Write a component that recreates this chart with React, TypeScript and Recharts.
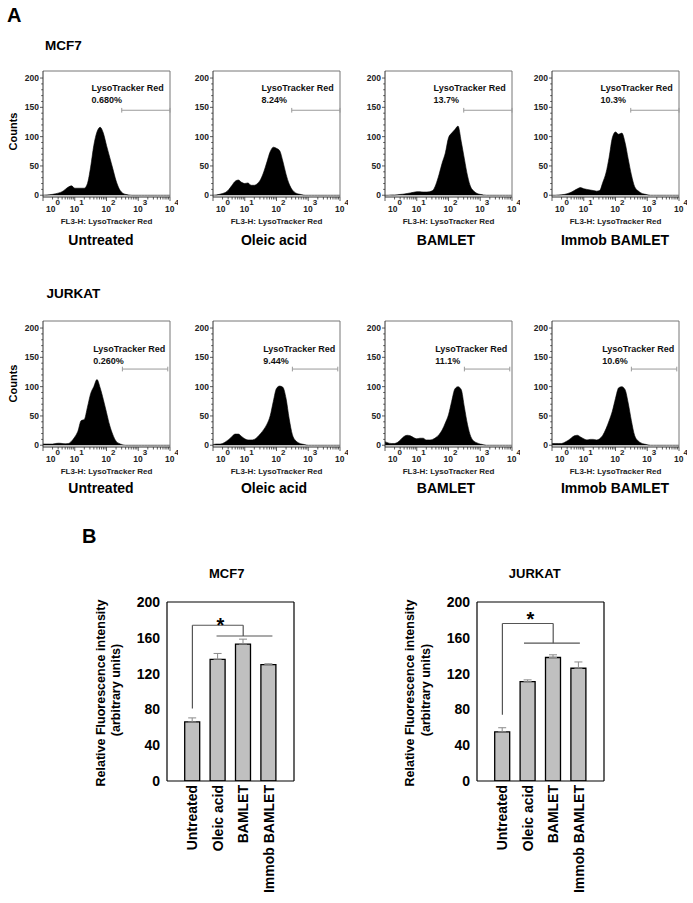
import React from 'react';
import {
  AreaChart, Area, XAxis, YAxis, ReferenceLine, ReferenceDot,
  BarChart, Bar, ErrorBar,
} from 'recharts';

const FONT = '"Liberation Sans", Arial, Helvetica, sans-serif';

// ---------- Panel A: flow cytometry histograms (counts per 0.1-decade bin, 10^0 .. 10^4) ----------
const LOG_BINS = [
  0, 0.1, 0.2, 0.3, 0.4, 0.5, 0.6, 0.7, 0.8, 0.9,
  1, 1.1, 1.2, 1.3, 1.4, 1.5, 1.6, 1.7, 1.8, 1.9,
  2, 2.1, 2.2, 2.3, 2.4, 2.5, 2.6, 2.7, 2.8, 2.9,
  3, 3.1, 3.2, 3.3, 3.4, 3.5, 3.6, 3.7, 3.8, 3.9, 4,
];

const mcf7Untreated = [
  0, 0.5, 1, 1.5, 2.5, 4, 6, 10, 14, 16,
  12, 12, 12, 12, 20, 48, 85, 108, 116, 106,
  85, 65, 45, 25, 11, 4, 1.5, 0.5, 0, 0,
  0, 0, 0, 0, 0, 0, 0, 0, 0, 0, 0,
];
const mcf7Oleic = [
  0, 0.5, 1.5, 3, 5, 10, 17, 24, 26, 22,
  20, 21, 17, 17, 20, 27, 40, 57, 74, 82,
  80, 76, 58, 36, 19, 9, 4, 2, 1, 0,
  0, 0, 0, 0, 0, 0, 0, 0, 0, 0, 0,
];
const mcf7Bamlet = [
  0, 0, 0.5, 0.5, 1, 1.5, 2, 3, 4, 5,
  6, 6, 5.5, 5.5, 6, 8, 18, 35, 55, 72,
  98, 106, 112, 118, 92, 62, 33, 14, 7, 3,
  1.5, 0.5, 0, 0, 0, 0, 0, 0, 0, 0, 0,
];
const mcf7Immob = [
  0, 0, 0.5, 1, 1.5, 3, 5, 8, 11, 13,
  11, 10, 9, 8, 7, 8, 22, 38, 65, 98,
  108, 104, 106, 90, 62, 35, 15, 8, 4, 2,
  1, 0, 0, 0, 0, 0, 0, 0, 0, 0, 0,
];
const jurkatUntreated = [
  2, 2, 2, 2, 3, 3.5, 3, 2.5, 3, 7,
  14, 24, 42, 44, 65, 88, 100, 112, 98, 78,
  56, 34, 18, 7, 3, 1, 0, 0, 0, 0,
  0, 0, 0, 0, 0, 0, 0, 0, 0, 0, 0,
];
const jurkatOleic = [
  1, 2, 2, 3, 6, 10, 15, 19, 19, 15,
  11, 9, 9, 10, 14, 20, 27, 36, 50, 75,
  97, 101, 99, 80, 45, 18, 8, 4, 2, 1,
  0, 0, 0, 0, 0, 0, 0, 0, 0, 0, 0,
];
const jurkatBamlet = [
  6, 4, 3, 3, 5, 10, 15, 17, 16, 13,
  11, 12, 12, 9, 9, 10, 13, 18, 26, 38,
  52, 75, 96, 100, 95, 65, 35, 15, 7, 4,
  2, 1, 0, 0, 0, 0, 0, 0, 0, 0, 0,
];
const jurkatImmob = [
  3, 3, 3, 3, 5, 8, 12, 16, 17, 14,
  11, 9, 10, 10, 9, 11, 17, 28, 42, 58,
  80, 98, 100, 95, 72, 42, 17, 8, 4, 2,
  1, 0, 0, 0, 0, 0, 0, 0, 0, 0, 0,
];

const histTitles = ['Untreated', 'Oleic acid', 'BAMLET', 'Immob BAMLET'];
const mcf7Percents = ['0.680%', '8.24%', '13.7%', '10.3%'];
const jurkatPercents = ['0.260%', '9.44%', '11.1%', '10.6%'];
const COUNT_TICKS = [0, 10, 20, 30, 40, 50, 60, 70, 80, 90, 100, 110, 120, 130, 140, 150, 160, 170, 180, 190, 200];
const DECADES = [0, 1, 2, 3, 4];

// ---------- Panel B: bar charts ----------
const barCategories = ['Untreated', 'Oleic acid', 'BAMLET', 'Immob BAMLET'];
const barSlots = [1, 2, 3, 4];
const mcf7Means = [66, 136, 153, 130];
const mcf7Errors = [4.5, 6.5, 5.5, 1];
const jurkatMeans = [55, 111, 138, 126];
const jurkatErrors = [4.5, 2, 3, 7];
const BAR_TICKS = [0, 40, 80, 120, 160, 200];

// log axis tick positions (major decades + minor 2..9)
const X_TICKS: number[] = [];
DECADES.forEach((n) => {
  X_TICKS.push(n);
  if (n < 4) for (let k = 2; k < 10; k++) X_TICKS.push(n + Math.log10(k));
});

// layout
const COL_LEFTS = [43, 213, 384.5, 552];
const ROW_TOPS = [71, 321];
const H_YW = 40, H_MT = 5, H_MR = 8, H_XH = 30, H_PW = 127, H_PH = 126;

const LogTick = (p: any) => {
  const v: number = p.payload.value;
  const major = Math.abs(v - Math.round(v)) < 1e-6;
  return (
    <g>
      <line x1={p.x} x2={p.x} y1={p.y} y2={p.y + (major ? 4 : 2.5)} stroke="#333" strokeWidth={0.8} />
      {major && (
        <text x={p.x + (v === 0 ? 10 : 2)} y={p.y + 14.5} textAnchor="middle" fontSize={8.5} fontWeight="bold" fill="#222" fontFamily={FONT}>
          10<tspan dy={-7} fontSize={8}>{Math.round(v)}</tspan>
        </text>
      )}
    </g>
  );
};

const CountTick = (p: any) => {
  const v: number = p.payload.value;
  const major = v % 50 === 0;
  return (
    <g>
      <line x1={p.x} x2={p.x - (major ? 3 : 1.8)} y1={p.y} y2={p.y} stroke="#333" strokeWidth={0.8} />
      {major && (
        <text x={p.x - 4} y={p.y + 3} textAnchor="end" fontSize={8.5} fontWeight="bold" fill="#222" fontFamily={FONT}>{v}</text>
      )}
    </g>
  );
};

type HistProps = {
  values: number[]; left: number; top: number; pct: string;
  gateY: number; gateFrom: number; gateTo: number;
  labelX: number; labelY1: number; labelY2: number;
};

const Histogram = ({ values, left, top, pct, gateY, gateFrom, gateTo, labelX, labelY1, labelY2 }: HistProps) => {
  const rows = LOG_BINS.map((d, i) => ({ d, c: values[i] }));
  const gateStroke = '#9a9a9a';
  return (
    <div style={{ position: 'absolute', left: left - H_YW, top: top - H_MT }}>
      <AreaChart width={H_YW + H_PW + H_MR} height={H_MT + H_PH + H_XH} data={rows}
        margin={{ top: H_MT, right: H_MR, bottom: 0, left: 0 }}>
        <XAxis dataKey="d" type="number" domain={[0, 4]} ticks={X_TICKS} interval={0}
          tickLine={false} tickSize={0} tickMargin={0} tick={<LogTick />} height={H_XH}
          stroke="#333" allowDataOverflow
          label={{ value: 'FL3-H: LysoTracker Red', position: 'insideBottom', offset: 3, fontSize: 8, fontWeight: 'bold', fill: '#222', fontFamily: FONT }} />
        <YAxis type="number" domain={[-3, 212]} ticks={COUNT_TICKS} interval={0} width={H_YW}
          tickLine={false} tickSize={0} tickMargin={0} tick={<CountTick />} stroke="#333" allowDataOverflow />
        <ReferenceLine x={4} stroke="#777" />
        <ReferenceLine y={212} stroke="#777" />
        <Area dataKey="c" type="monotone" stroke="#000" strokeWidth={0.6} fill="#000" fillOpacity={1}
          isAnimationActive={false} dot={false} activeDot={false} />
        <ReferenceLine segment={[{ x: gateFrom, y: gateY }, { x: gateTo, y: gateY }]} stroke={gateStroke} />
        <ReferenceLine segment={[{ x: gateFrom, y: gateY - 4 }, { x: gateFrom, y: gateY + 4 }]} stroke={gateStroke} />
        <ReferenceLine segment={[{ x: gateTo, y: gateY - 4 }, { x: gateTo, y: gateY + 4 }]} stroke={gateStroke} />
        <ReferenceDot x={labelX} y={labelY1} r={0}
          shape={(s: any) => <text x={s.cx} y={s.cy} fontSize={9} fontWeight="bold" fill="#111" fontFamily={FONT}>LysoTracker Red</text>} />
        <ReferenceDot x={labelX} y={labelY2} r={0}
          shape={(s: any) => <text x={s.cx} y={s.cy} fontSize={9} fontWeight="bold" fill="#111" fontFamily={FONT}>{pct}</text>} />
      </AreaChart>
    </div>
  );
};

const CatTick = (p: any) => {
  const idx = barSlots.indexOf(Math.round(p.payload.value));
  return (
    <text x={p.x} y={p.y} transform={`rotate(-90 ${p.x} ${p.y})`} textAnchor="end" dx={-4} dy="0.36em"
      fontSize={14} fontWeight="bold" fill="#000" fontFamily={FONT}>{barCategories[idx]}</text>
  );
};

type BarProps = {
  means: number[]; errors: number[]; left: number; top: number;
  bLow: number; bTop: number; bMid: number; bMidFrom: number; bMidTo: number; starY: number;
};
const B_YW = 45, B_MT = 12, B_MR = 8, B_XH = 118, B_PW = 127, B_PH = 179;

const BarPanel = ({ means, errors, left, top, bLow, bTop, bMid, bMidFrom, bMidTo, starY }: BarProps) => {
  const rows = barSlots.map((x, i) => ({ x, v: means[i], e: [0, errors[i]] }));
  const br = '#555';
  return (
    <div style={{ position: 'absolute', left: left - B_YW, top: top - B_MT }}>
      <BarChart width={B_YW + B_PW + B_MR} height={B_MT + B_PH + B_XH} data={rows}
        margin={{ top: B_MT, right: B_MR, bottom: 0, left: 0 }}>
        <XAxis dataKey="x" type="number" domain={[0, 5]} ticks={barSlots} interval={0} allowDataOverflow
          tickLine={false} tickSize={0} tickMargin={0} tick={<CatTick />} height={B_XH} stroke="#000" strokeWidth={1.2} />
        <YAxis domain={[0, 200]} ticks={BAR_TICKS} interval={0} width={B_YW} tickLine={false} tickSize={0} tickMargin={7}
          tick={{ fontSize: 14, fontWeight: 'bold', fill: '#000', fontFamily: FONT }} stroke="#000" strokeWidth={1.2} allowDataOverflow />
        <ReferenceLine y={200} stroke="#000" strokeWidth={1.2} />
        <ReferenceLine x={5} stroke="#000" strokeWidth={1.2} />
        <Bar dataKey="v" barSize={15} fill="#c0c0c0" stroke="#000" strokeWidth={1.3} isAnimationActive={false}>
          <ErrorBar dataKey="e" direction="y" width={4} stroke="#8a8a8a" strokeWidth={1} />
        </Bar>
        <ReferenceLine segment={[{ x: 1, y: bLow }, { x: 1, y: bTop }]} stroke={br} strokeWidth={1.2} />
        <ReferenceLine segment={[{ x: 1, y: bTop }, { x: 3, y: bTop }]} stroke={br} strokeWidth={1.2} />
        <ReferenceLine segment={[{ x: 3, y: bTop }, { x: 3, y: bMid }]} stroke={br} strokeWidth={1.2} />
        <ReferenceLine segment={[{ x: bMidFrom, y: bMid }, { x: bMidTo, y: bMid }]} stroke={br} strokeWidth={1.2} />
        <ReferenceDot x={2.1} y={starY} r={0}
          shape={(s: any) => <text x={s.cx} y={s.cy + 11} textAnchor="middle" fontSize={20} fontWeight="bold" fill="#000" fontFamily={FONT}>*</text>} />
      </BarChart>
    </div>
  );
};

const TITLE_CENTERS = [101, 274, 446, 615];

export default function App() {
  const histRows = [
    { sets: [mcf7Untreated, mcf7Oleic, mcf7Bamlet, mcf7Immob], pcts: mcf7Percents, gateY: 145, gateFrom: 2.48, gateTo: 4, labelX: 1.53, l1: 178, l2: 157, titleY: 245 },
    { sets: [jurkatUntreated, jurkatOleic, jurkatBamlet, jurkatImmob], pcts: jurkatPercents, gateY: 130, gateFrom: 2.5, gateTo: 3.93, labelX: 1.58, l1: 159, l2: 139, titleY: 492.5 },
  ];
  return (
    <div style={{ position: 'absolute', left: 0, top: 0, width: 693, height: 903, background: '#fff', fontFamily: FONT, overflow: 'hidden' }}>
      {histRows.map((r, ri) =>
        r.sets.map((vals, ci) => (
          <Histogram key={`${ri}-${ci}`} values={vals} left={COL_LEFTS[ci]} top={ROW_TOPS[ri]} pct={r.pcts[ci]}
            gateY={r.gateY} gateFrom={r.gateFrom} gateTo={r.gateTo} labelX={r.labelX} labelY1={r.l1} labelY2={r.l2} />
        ))
      )}
      <BarPanel means={mcf7Means} errors={mcf7Errors} left={167} top={602} bLow={81} bTop={174} bMid={162} bMidFrom={1.95} bMidTo={4.15} starY={178.5} />
      <BarPanel means={jurkatMeans} errors={jurkatErrors} left={477} top={602} bLow={74} bTop={176} bMid={154} bMidFrom={1.85} bMidTo={4.05} starY={186} />
      <svg width={693} height={903} style={{ position: 'absolute', left: 0, top: 0, pointerEvents: 'none' }} fontFamily={FONT} fontWeight="bold" fill="#000">
        <text x={7} y={22} fontSize={20}>A</text>
        <text x={45} y={50} fontSize={13.5}>MCF7</text>
        <text x={46.5} y={297.5} fontSize={13.5}>JURKAT</text>
        <text x={16.5} y={131.5} fontSize={11} textAnchor="middle" transform="rotate(-90 16.5 131.5)">Counts</text>
        <text x={16.5} y={383.5} fontSize={11} textAnchor="middle" transform="rotate(-90 16.5 383.5)">Counts</text>
        {histRows.map((r, ri) =>
          histTitles.map((t, ci) => (
            <text key={`t${ri}${ci}`} x={TITLE_CENTERS[ci]} y={r.titleY} fontSize={14} textAnchor="middle">{t}</text>
          ))
        )}
        <text x={82} y={543} fontSize={20}>B</text>
        <text x={226.7} y={578} fontSize={13} textAnchor="middle">MCF7</text>
        <text x={534.7} y={578} fontSize={13} textAnchor="middle">JURKAT</text>
        <text x={104.5} y={693} fontSize={12.5} textAnchor="middle" transform="rotate(-90 104.5 693)">Relative Fluorescence intensity</text>
        <text x={120} y={690} fontSize={12.5} textAnchor="middle" transform="rotate(-90 120 690)">(arbitrary units)</text>
        <text x={414} y={693} fontSize={12.5} textAnchor="middle" transform="rotate(-90 414 693)">Relative Fluorescence intensity</text>
        <text x={429.5} y={690} fontSize={12.5} textAnchor="middle" transform="rotate(-90 429.5 690)">(arbitrary units)</text>
      </svg>
    </div>
  );
}
